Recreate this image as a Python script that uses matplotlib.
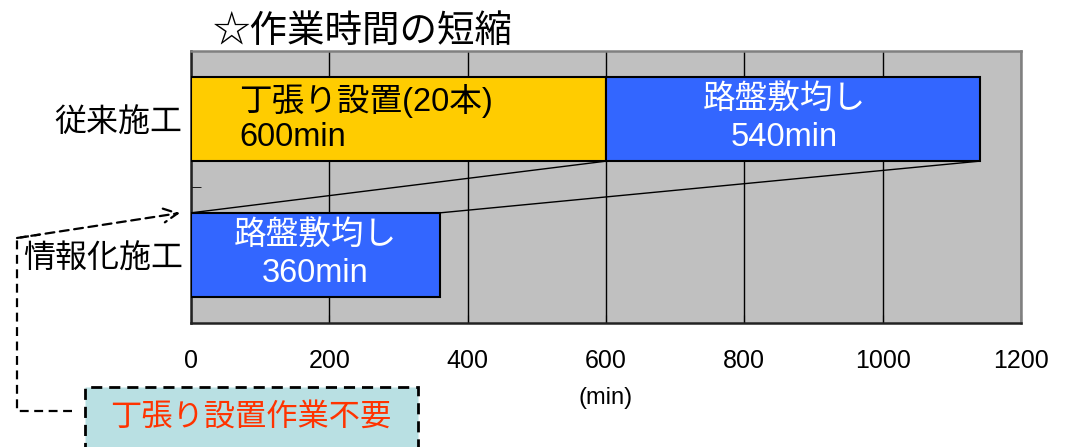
import matplotlib
matplotlib.use("Agg")
import matplotlib.pyplot as plt
from matplotlib.patches import Rectangle
from matplotlib.lines import Line2D

plt.rcParams['font.family'] = ['Noto Sans CJK JP', 'DejaVu Sans']
MIXED = ['Liberation Sans', 'Noto Sans CJK JP', 'DejaVu Sans']

# --- data ---
categories = ["情報化施工", "従来施工"]          # bottom -> top
conv_stake = 600        # 丁張り設置 (従来施工)
conv_grade = 540        # 路盤敷均し (従来施工)
ict_grade = 360         # 路盤敷均し (情報化施工)
xticks = [0, 200, 400, 600, 800, 1000, 1200]
title = "☆作業時間の短縮"
xlabel = "(min)"
note = "丁張り設置作業不要"

W, H = 1070, 447
fig = plt.figure(figsize=(W / 100, H / 100), dpi=100)


def fx(px):
    return px / W


def fy(py):
    return 1 - py / H


ax = fig.add_axes([fx(191), fy(323), fx(1021) - fx(191), fy(51) - fy(323)])
ax.set_facecolor("#C0C0C0")

yellow = "#FFCC00"
blue = "#3366FF"
bh = 0.62
y_conv, y_ict = 1, 0

ax.barh(y_conv, conv_stake, height=bh, color=yellow, edgecolor="black", linewidth=1.5, zorder=3)
ax.barh(y_conv, conv_grade, left=conv_stake, height=bh, color=blue, edgecolor="black", linewidth=1.5, zorder=3)
ax.barh(y_ict, ict_grade, height=bh, color=blue, edgecolor="black", linewidth=1.5, zorder=3)

# connector lines between the two rows
ax.plot([conv_stake, 0], [y_conv - bh / 2, y_ict + bh / 2], color="black", lw=1, zorder=2)
ax.plot([conv_stake + conv_grade, ict_grade], [y_conv - bh / 2, y_ict + bh / 2], color="black", lw=1, zorder=2)

# bar labels
fs_bar = 23.5
dy = 0.135
tk = dict(va="center", fontsize=fs_bar, family=MIXED, zorder=4)
ax.text(70, y_conv + dy, "丁張り設置(20本)", ha="left", color="black", **tk)
ax.text(70, y_conv - dy, f"{conv_stake}min", ha="left", color="black", **tk)
xc = conv_stake + conv_grade / 2 - 12
ax.text(xc, y_conv + dy, "路盤敷均し", ha="center", color="white", **tk)
ax.text(xc, y_conv - dy, f"{conv_grade}min", ha="center", color="white", **tk)
ax.text(ict_grade / 2, y_ict + dy, "路盤敷均し", ha="center", color="white", **tk)
ax.text(ict_grade / 2, y_ict - dy, f"{ict_grade}min", ha="center", color="white", **tk)

# axes
ax.set_xlim(0, 1200)
ax.set_ylim(-0.5, 1.5)
ax.set_xticks(xticks)
ax.set_xticklabels([str(v) for v in xticks], fontsize=18, family=MIXED)
ax.tick_params(axis="x", direction="in", length=6, pad=19, color="black")
ax.set_yticks([0, 1])
ax.set_yticklabels(categories, fontsize=23)
ax.tick_params(axis="y", which="major", length=0, pad=6)
ax.set_yticks([-0.5, 0.5, 1.5], minor=True)
ax.tick_params(axis="y", which="minor", direction="in", length=7, color="black")
ax.xaxis.grid(True, color="black", lw=1, zorder=1)
ax.set_axisbelow(True)
ax.set_xlabel(xlabel, fontsize=17, family=MIXED, labelpad=10)

for side in ["left", "bottom"]:
    ax.spines[side].set_color("#222222")
    ax.spines[side].set_linewidth(1.8)
for side in ["top", "right"]:
    ax.spines[side].set_color("#808080")
    ax.spines[side].set_linewidth(1.8)

# title
fig.text(fx(213), fy(31), title, ha="left", va="center", fontsize=27)

# note box
box = Rectangle((fx(85), fy(460)), fx(418) - fx(85), fy(387) - fy(460),
                transform=fig.transFigure, facecolor="#B9E0E3", edgecolor="black",
                linewidth=2, linestyle=(0, (4, 2.5)), clip_on=False)
fig.add_artist(box)
fig.text(fx(251), fy(417), note, ha="center", va="center", fontsize=22.5, color="#FF3300")

# dashed leader with arrow
leader = Line2D([fx(72), fx(17), fx(17), fx(40)], [fy(411), fy(411), fy(238), fy(234.6)],
                transform=fig.transFigure, color="black", lw=1.6, linestyle=(0, (4, 2.5)))
fig.add_artist(leader)
ax.annotate("", xy=(fx(180), fy(213)), xycoords="figure fraction",
            xytext=(fx(17), fy(238)), textcoords="figure fraction",
            arrowprops=dict(arrowstyle="->,head_length=1.0,head_width=0.5", color="black",
                            lw=1.6, linestyle=(0, (4, 2.5)), shrinkA=0, shrinkB=0),
            annotation_clip=False)

fig.savefig("out.png", dpi=100)
